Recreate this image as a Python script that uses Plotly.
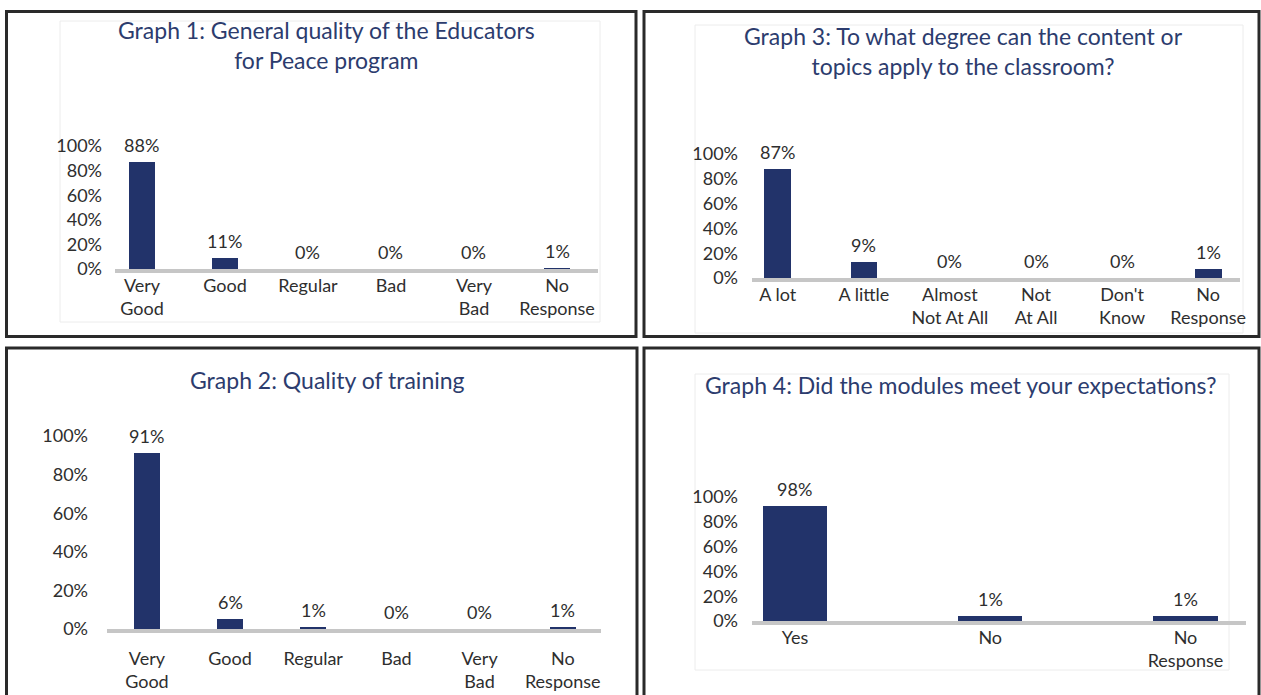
import plotly.graph_objects as go

W, H = 1261, 695

# ---------------- data ----------------
g1_title = "Graph 1: General quality of the Educators<br>for Peace program"
g1_categories = ["Very<br>Good", "Good", "Regular", "Bad", "Very<br>Bad", "No<br>Response"]
g1_values = [87, 9, 0, 0, 0, 0.5]
g1_labels = ["88%", "11%", "0%", "0%", "0%", "1%"]

g2_title = "Graph 2: Quality of training"
g2_categories = ["Very<br>Good", "Good", "Regular", "Bad", "Very<br>Bad", "No<br>Response"]
g2_values = [91, 5, 1, 0, 0, 1]
g2_labels = ["91%", "6%", "1%", "0%", "0%", "1%"]

g3_title = "Graph 3: To what degree can the content or<br>topics apply to the classroom?"
g3_categories = ["A lot", "A little", "Almost<br>Not At All", "Not<br>At All", "Don't<br>Know", "No<br>Response"]
g3_values = [88, 13, 0, 0, 0, 7]
g3_labels = ["87%", "9%", "0%", "0%", "0%", "1%"]

g4_title = "Graph 4: Did the modules meet your expectations?"
g4_categories = ["Yes", "No", "No<br>Response"]
g4_values = [93, 4, 4]
g4_labels = ["98%", "1%", "1%"]

y_ticks = [0, 20, 40, 60, 80, 100]
y_tick_labels = ["0%", "20%", "40%", "60%", "80%", "100%"]

# ---------------- style ----------------
FONT = "Lato, 'Open Sans', sans-serif"
NAVY = "#22336a"
TITLE_C = "#2c3c6e"
TEXT_C = "#2e2e2e"
BASE_C = "#c6c6c6"


def fx(px):
    return px / W


def fy(py):
    return 1 - py / H


panels = [
    dict(title=g1_title, cats=g1_categories, vals=g1_values, labs=g1_labels,
         x0=115, x1=598, yzero=269, y100=146, rng=[-0.325, 5.494], bw=0.31,
         tx=326, ty=45, xstand=-3, ystand=12, box=(6.5, 11.5, 636, 336.5),
         inner=(60, 21, 600, 322)),
    dict(title=g2_title, cats=g2_categories, vals=g2_values, labs=g2_labels,
         x0=107, x1=601, yzero=629, y100=436, rng=[-0.48, 5.46], bw=0.31,
         tx=327, ty=380, xstand=10, ystand=18, box=(6.5, 348, 637, 720),
         inner=None),
    dict(title=g3_title, cats=g3_categories, vals=g3_values, labs=g3_labels,
         x0=752, x1=1240, yzero=278, y100=154, rng=[-0.30, 5.37], bw=0.31,
         tx=964, ty=51, xstand=-3, ystand=13, box=(644, 11.5, 1259, 336.5),
         inner=(695, 25, 1243, 333)),
    dict(title=g4_title, cats=g4_categories, vals=g4_values, labs=g4_labels,
         x0=752, x1=1246, yzero=621, y100=497, rng=[-0.22, 2.31], bw=0.33,
         tx=960, ty=385, xstand=-3, ystand=13, box=(644, 348, 1259, 720),
         inner=(695, 374, 1229, 670)),
]

fig = go.Figure()
shapes = []
annotations = []

for i, p in enumerate(panels):
    n = "" if i == 0 else str(i + 1)
    xa, ya = "x" + n, "y" + n
    idx = list(range(len(p["cats"])))
    fig.add_trace(go.Bar(
        x=idx, y=p["vals"], width=p["bw"], marker=dict(color=NAVY, line=dict(width=0)),
        xaxis=xa, yaxis=ya, showlegend=False, hoverinfo="skip"))
    # data labels
    for xi, v, lab in zip(idx, p["vals"], p["labs"]):
        annotations.append(dict(x=xi, y=v, xref=xa, yref=ya, text=lab, showarrow=False,
                                yanchor="bottom", yshift=4,
                                font=dict(family=FONT, size=18, color=TEXT_C)))
    # title
    annotations.append(dict(x=fx(p["tx"]), y=fy(p["ty"]), xref="paper", yref="paper",
                            text=p["title"], showarrow=False, xanchor="center", yanchor="middle",
                            align="center",
                            font=dict(family=FONT, size=23, color=TITLE_C)))
    # axes
    ydom = [fy(p["yzero"]), fy(p["y100"])]
    fig.layout["xaxis" + n] = dict(
        domain=[fx(p["x0"]), fx(p["x1"])], anchor=ya, range=p["rng"],
        tickmode="array", tickvals=idx, ticktext=p["cats"], automargin=False,
        showline=True, linecolor=BASE_C, linewidth=4, showgrid=False, zeroline=False,
        ticks="", ticklabelstandoff=p["xstand"],
        tickfont=dict(family=FONT, size=18, color=TEXT_C), fixedrange=True)
    fig.layout["yaxis" + n] = dict(
        domain=ydom, anchor=xa, range=[0, 100], automargin=False,
        tickmode="array", tickvals=y_ticks, ticktext=y_tick_labels,
        showline=False, showgrid=False, zeroline=False, ticks="",
        ticklabelstandoff=p["ystand"],
        tickfont=dict(family=FONT, size=18, color=TEXT_C), fixedrange=True)
    # faint inner chart-area frame
    if p["inner"]:
        a, b, c, d = p["inner"]
        shapes.append(dict(type="rect", xref="paper", yref="paper",
                           x0=fx(a), x1=fx(c), y0=fy(d), y1=fy(b),
                           line=dict(color="#ececec", width=1), layer="below"))
    # black panel border
    a, b, c, d = p["box"]
    shapes.append(dict(type="rect", xref="paper", yref="paper",
                       x0=fx(a), x1=fx(c), y0=fy(d), y1=fy(b),
                       line=dict(color="#2a2a2a", width=3)))

fig.update_layout(
    width=W, height=H, autosize=False,
    margin=dict(l=0, r=0, t=0, b=0, pad=0, autoexpand=False),
    paper_bgcolor="white", plot_bgcolor="white",
    shapes=shapes, annotations=annotations, bargap=0,
    font=dict(family=FONT, color=TEXT_C),
)

fig.write_html(
    "out.html",
    config={"displayModeBar": False},
    post_script="document.body.style.margin='0';document.body.style.overflow='hidden';",
)
